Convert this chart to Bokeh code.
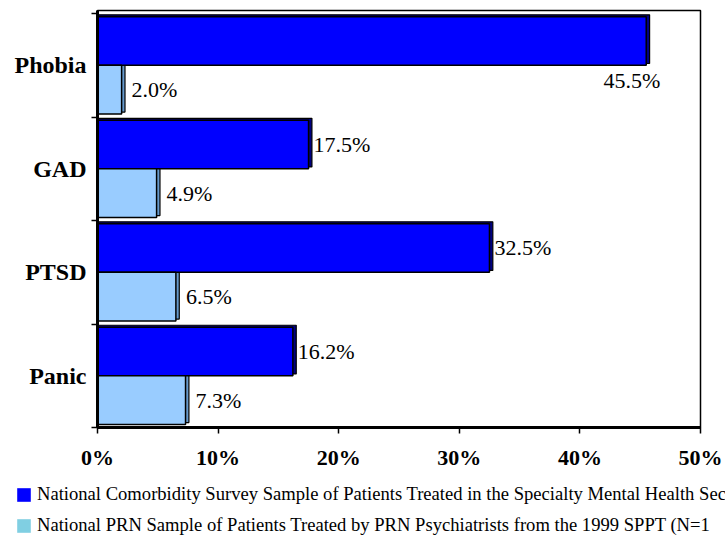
from bokeh.plotting import figure
from bokeh.layouts import column, row
from bokeh.models import (ColumnDataSource, Range1d, FixedTicker, PrintfTickFormatter,
                          Legend, LegendItem, LinearAxis)
from bokeh.core.properties import value
from bokeh.embed import file_html
from bokeh.resources import INLINE

categories = ["Phobia", "GAD", "PTSD", "Panic"]
ncs_values = [45.5, 17.5, 32.5, 16.2]
prn_values = [2.0, 4.9, 6.5, 7.3]
x_ticks = [0, 10, 20, 30, 40, 50]
series_names = [
    "National Comorbidity Survey Sample of Patients Treated in the Specialty Mental Health Sector",
    "National PRN Sample of Patients Treated by PRN Psychiatrists from the 1999 SPPT (N=1",
]

DARK = "#0000FF"
LIGHT = "#99CCFF"
DARK_SIDE = "#000080"
LIGHT_SIDE = "#6699CC"
LEG_LIGHT = "#80CFE2"
SERIF = "Liberation Serif"

n = len(categories)
centers = [n - i - 0.5 for i in range(n)]
bar_h = 0.47
depth_x = 0.28
depth_y = 0.018

src = ColumnDataSource(dict(
    cat=categories,
    c=centers,
    ncs=ncs_values,
    prn=prn_values,
    ncs_top=[c + bar_h for c in centers],
    prn_bot=[c - bar_h for c in centers],
    ncs_mid=[c + bar_h / 2 for c in centers],
    prn_mid=[c - bar_h / 2 for c in centers],
    ncs_side=[v + depth_x for v in ncs_values],
    prn_side=[v + depth_x for v in prn_values],
    ncs_side_top=[c + bar_h + depth_y for c in centers],
    ncs_side_bot=[c + depth_y for c in centers],
    prn_side_top=[c + depth_y for c in centers],
    prn_side_bot=[c - bar_h + depth_y for c in centers],
    ncs_lbl=["%.1f%%" % v for v in ncs_values],
    prn_lbl=["%.1f%%" % v for v in prn_values],
))

p = figure(width=725, height=472, output_backend="svg", toolbar_location=None,
           x_range=Range1d(0, 50), y_range=Range1d(0, n + 0.03),
           min_border_left=97, min_border_right=25, min_border_top=10,
           min_border_bottom=44, x_axis_location=None, y_axis_location=None)
p.grid.visible = False
p.outline_line_color = "black"
p.outline_line_width = 1.5
p.background_fill_color = "white"
p.border_fill_color = "white"

# x axis
xa = LinearAxis(ticker=FixedTicker(ticks=x_ticks),
                formatter=PrintfTickFormatter(format="%d%%"))
xa.axis_line_width = 3
xa.axis_line_color = "black"
xa.major_tick_out = 6
xa.major_tick_in = 0
xa.major_tick_line_width = 1.5
xa.minor_tick_out = 0
xa.minor_tick_in = 0
xa.major_label_standoff = 11
xa.major_label_text_font = SERIF
xa.major_label_text_font_style = "bold"
xa.major_label_text_font_size = "22px"
xa.major_label_text_color = "black"
p.add_layout(xa, "below")

# y axis: labels at category centers, ticks at category boundaries
ya = LinearAxis(ticker=FixedTicker(ticks=centers, minor_ticks=list(range(n + 1))))
ya.major_label_overrides = {c: cat for c, cat in zip(centers, categories)}
ya.axis_line_width = 3
ya.axis_line_color = "black"
ya.major_tick_out = 0
ya.major_tick_in = 0
ya.minor_tick_out = 6
ya.minor_tick_in = 0
ya.minor_tick_line_width = 1.5
ya.minor_tick_line_color = "black"
ya.major_label_standoff = 5
ya.major_label_text_font = SERIF
ya.major_label_text_font_style = "bold"
ya.major_label_text_font_size = "24px"
ya.major_label_text_color = "black"
p.add_layout(ya, "left")

# depth (side) faces
p.quad(left=0, right="ncs_side", top="ncs_side_top", bottom="ncs_side_bot", source=src,
       fill_color=DARK_SIDE, line_color="black", line_width=1.2)
p.quad(left=0, right="prn_side", top="prn_side_top", bottom="prn_side_bot", source=src,
       fill_color=LIGHT_SIDE, line_color="black", line_width=1.2)
# front faces
p.quad(left=0, right="ncs", top="ncs_top", bottom="c", source=src,
       fill_color=DARK, line_color="black", line_width=1.5)
p.quad(left=0, right="prn", top="c", bottom="prn_bot", source=src,
       fill_color=LIGHT, line_color="black", line_width=1.5)

# value labels
LBL = "22px"
inside = [v > 40 for v in ncs_values]
src_out = ColumnDataSource(dict(
    x=[v for v, f in zip(ncs_values, inside) if not f],
    y=[m for m, f in zip(src.data["ncs_mid"], inside) if not f],
    t=[l for l, f in zip(src.data["ncs_lbl"], inside) if not f]))
src_in = ColumnDataSource(dict(
    x=[v for v, f in zip(ncs_values, inside) if f],
    y=[c for c, f in zip(centers, inside) if f],
    t=[l for l, f in zip(src.data["ncs_lbl"], inside) if f]))
p.text(x="x", y="y", text="t", source=src_out, x_offset=5, text_baseline="middle",
       text_align="left", text_font=value(SERIF), text_font_size=LBL, text_color="black")
p.text(x="x", y="y", text="t", source=src_in, x_offset=14, y_offset=3, text_baseline="top",
       text_align="right", text_font=value(SERIF), text_font_size=LBL, text_color="black")
p.text(x="prn", y="prn_mid", text="prn_lbl", source=src, x_offset=10, text_baseline="middle",
       text_align="left", text_font=value(SERIF), text_font_size=LBL, text_color="black")

# legend strip below the chart (swatch renderers hold no drawable geometry)
nan = float("nan")
lf = figure(width=725, height=64, output_backend="svg", toolbar_location=None,
            x_range=Range1d(0, 1), y_range=Range1d(0, 1),
            min_border_left=0, min_border_right=0, min_border_top=0, min_border_bottom=0,
            x_axis_location=None, y_axis_location=None)
lf.grid.visible = False
lf.outline_line_color = None
r1 = lf.quad(left=[nan], right=[nan], top=[nan], bottom=[nan], fill_color=DARK, line_color=None)
r2 = lf.quad(left=[nan], right=[nan], top=[nan], bottom=[nan], fill_color=LEG_LIGHT, line_color=None)
leg = Legend(items=[LegendItem(label=series_names[0], renderers=[r1]),
                    LegendItem(label=series_names[1], renderers=[r2])],
             location=(15, -1), orientation="vertical")
leg.border_line_color = None
leg.background_fill_alpha = 0
leg.padding = 0
leg.margin = 0
leg.spacing = 7
leg.glyph_width = 17
leg.glyph_height = 17
leg.label_height = 24
leg.label_standoff = 5
leg.label_text_font = SERIF
leg.label_text_font_size = "18.6px"
leg.label_text_color = "black"
leg.label_text_baseline = "middle"
lf.add_layout(leg, "center")

layout = column(p, row(lf), spacing=0)
open("out.html", "w").write(file_html(layout, INLINE))
